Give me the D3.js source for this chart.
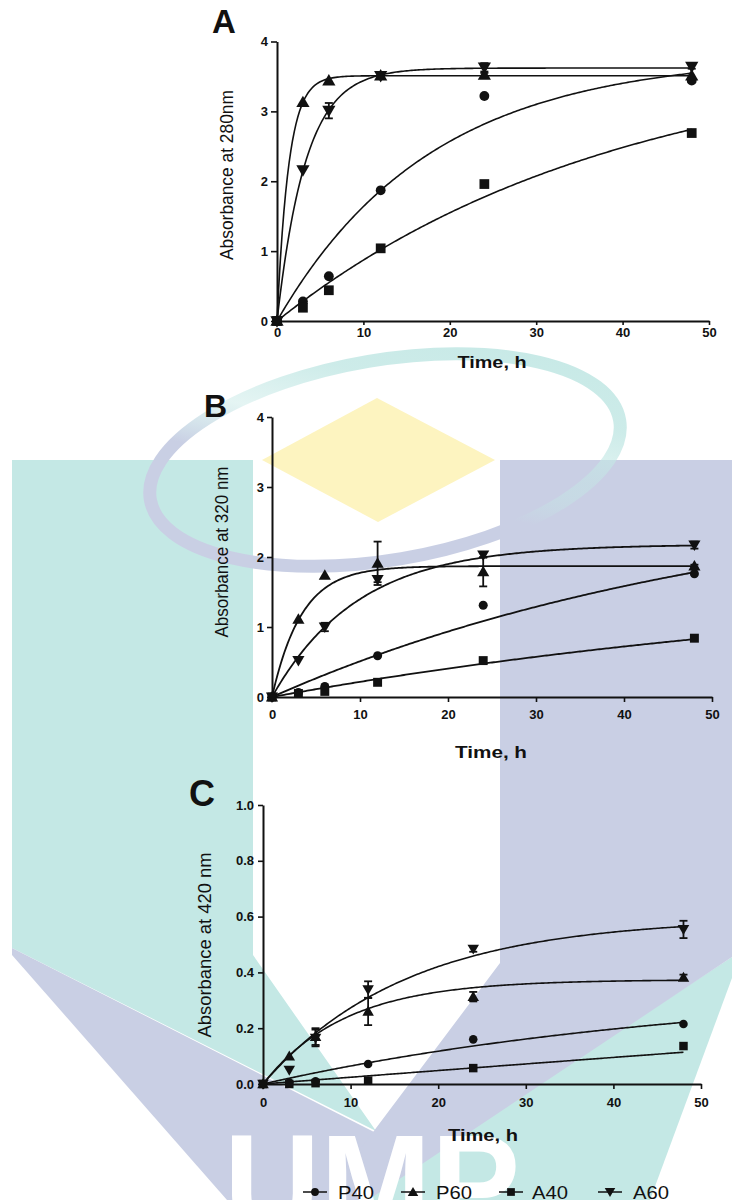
<!DOCTYPE html>
<html>
<head>
<meta charset="utf-8">
<script src="https://cdn.jsdelivr.net/npm/d3@7"></script>
<style>
  html, body { margin: 0; padding: 0; background: #fff; }
  svg { display: block; }
  text { font-family: Arial, "Liberation Sans", Helvetica, sans-serif; fill: #111; }
</style>
</head>
<body>
<svg id="chart" width="732" height="1200"></svg>
<script>
// Sampling times (h)
const times = [0, 3, 6, 12, 24, 48];
const seriesNames = ["P40", "P60", "A40", "A60"];
const xTicks = [0, 10, 20, 30, 40, 50];

// Panel A: absorbance at 280 nm
const a280_P40 = [0, 0.28, 0.64, 1.87, 3.22, 3.44];
const a280_P60 = [0, 3.13, 3.44, 3.51, 3.52, 3.51];
const a280_A40 = [0, 0.19, 0.44, 1.04, 1.96, 2.69];
const a280_A60 = [0, 2.16, 3.01, 3.51, 3.63, 3.64];
const a280_errP60 = [0, 0, 0, 0.02, 0.03, 0];
const a280_errA60 = [0, 0, 0.11, 0.03, 0.06, 0.03];
const a280_plateau = [3.80, 3.51, 3.90, 3.62];
const a280_rate = [0.0564, 0.74, 0.0253, 0.30];
const a280_yTicks = [0, 1, 2, 3, 4];

// Panel B: absorbance at 320 nm
const a320_P40 = [0, 0.065, 0.15, 0.59, 1.31, 1.76];
const a320_P60 = [0, 1.11, 1.74, 1.91, 1.79, 1.87];
const a320_A40 = [0, 0.05, 0.08, 0.21, 0.52, 0.84];
const a320_A60 = [0, 0.52, 1.00, 1.68, 2.03, 2.17];
const a320_errP60 = [0, 0, 0, 0.31, 0.21, 0.02];
const a320_errA60 = [0, 0, 0.06, 0.04, 0.04, 0.05];
const a320_plateau = [3.05, 1.87, 1.80, 2.18];
const a320_rate = [0.0183, 0.296, 0.0128, 0.1025];
const a320_yTicks = [0, 1, 2, 3, 4];

// Panel C: absorbance at 420 nm
const a420_P40 = [0, 0.005, 0.01, 0.072, 0.16, 0.215];
const a420_P60 = [0, 0.10, 0.17, 0.26, 0.313, 0.382];
const a420_A40 = [0, 0.0, 0.003, 0.012, 0.057, 0.136];
const a420_A60 = [0, 0.05, 0.165, 0.338, 0.484, 0.554];
const a420_errP60 = [0, 0, 0.03, 0.049, 0.017, 0.01];
const a420_errA60 = [0, 0, 0.03, 0.03, 0.01, 0.031];
const a420_plateau = [0.362, 0.374, 2.0, 0.596];
const a420_rate = [0.01964, 0.1067, 0.00122, 0.0612];
const a420_yTicks = [0, 0.2, 0.4, 0.6, 0.8, 1.0];

const svg = d3.select("#chart");
const INK = "#111";

// ---------- background emblem ----------
const TEAL = "#c4e8e5", LAV = "#c9cfe4", YEL = "#fdf4c0";
const defs = svg.append("defs");
const g0 = defs.append("linearGradient").attr("id", "ringGrad")
  .attr("x1", "0%").attr("y1", "100%").attr("x2", "100%").attr("y2", "0%");
g0.append("stop").attr("offset", "0%").attr("stop-color", LAV);
g0.append("stop").attr("offset", "42%").attr("stop-color", LAV);
g0.append("stop").attr("offset", "56%").attr("stop-color", TEAL).attr("stop-opacity", 0.45);
g0.append("stop").attr("offset", "72%").attr("stop-color", TEAL).attr("stop-opacity", 0.85);
g0.append("stop").attr("offset", "100%").attr("stop-color", TEAL);

const emblem = svg.append("g").attr("class", "emblem");
const poly = pts => "M" + pts.map(p => p.join(",")).join("L") + "Z";
emblem.append("path").attr("d", poly([[12,460],[253,460],[253,955],[376,1131],[12,948]])).attr("fill", TEAL);
emblem.append("path").attr("d", poly([[12,948],[376,1133],[376,1200],[227,1200],[12,955]])).attr("fill", LAV);
emblem.append("path").attr("d", poly([[732,957],[732,978],[650,1200],[366,1200],[366,1197]])).attr("fill", TEAL);
emblem.append("path").attr("d", poly([[500,460],[732,460],[732,957],[368,1200],[322,1200],[500,963]])).attr("fill", LAV);
emblem.append("ellipse")
  .attr("cx", 385).attr("cy", 460).attr("rx", 238).attr("ry", 100)
  .attr("transform", "rotate(-9.6 385 460)")
  .attr("fill", "none").attr("stroke", "url(#ringGrad)").attr("stroke-width", 13);
emblem.append("path").attr("d", poly([[377,398],[495,460],[378,522],[262,460]])).attr("fill", YEL);
emblem.append("text").text("UMP")
  .attr("x", 224).attr("y", 1232)
  .attr("textLength", 296).attr("lengthAdjust", "spacingAndGlyphs")
  .style("font-size", "140px").style("font-weight", "bold").style("fill", "#fff");

// ---------- markers ----------
const symbolTypes = [d3.symbolCircle, d3.symbolTriangle, d3.symbolSquare, d3.symbolTriangle];
const symbolRot = [0, 0, 0, 180];

function marker(g, i, x, y, size) {
  const s = [size * 0.8, size * 0.8, size, size * 0.8][i];
  g.append("path")
    .attr("d", d3.symbol().type(symbolTypes[i]).size(s)())
    .attr("transform", `translate(${x},${y}) rotate(${symbolRot[i]})` + (i === 1 || i === 3 ? " translate(0,1)" : ""))
    .attr("fill", INK);
}

// ---------- panels ----------
const panels = [
  {
    name: "A", values: [a280_P40, a280_P60, a280_A40, a280_A60],
    err: [null, a280_errP60, null, a280_errA60],
    plateau: a280_plateau, rate: a280_rate, yTicks: a280_yTicks, ymax: 4, fmt: d3.format("d"),
    xr: [277, 709], yr: [321, 41.5], xTick: [4, 3], yTick: [6, 3],
    letterPos: [212, 33, 33], yLabel: "Absorbance at 280nm", yLabelPos: [227, 175, 170],
    xLabelPos: [492, 368, 69], msize: 95, lw: 1.6
  },
  {
    name: "B", values: [a320_P40, a320_P60, a320_A40, a320_A60],
    err: [null, a320_errP60, null, a320_errA60],
    plateau: a320_plateau, rate: a320_rate, yTicks: a320_yTicks, ymax: 4, fmt: d3.format("d"),
    xr: [272, 712], yr: [697, 417], xTick: [5, 8], yTick: [5, 3],
    letterPos: [204, 417, 32], yLabel: "Absorbance at 320 nm", yLabelPos: [222, 552, 171],
    xLabelPos: [491, 758, 72], msize: 80, lw: 1.8
  },
  {
    name: "C", values: [a420_P40, a420_P60, a420_A40, a420_A60],
    err: [null, a420_errP60, null, a420_errA60],
    plateau: a420_plateau, rate: a420_rate, yTicks: a420_yTicks, ymax: 1, fmt: d3.format(".1f"),
    xr: [263, 701], yr: [1084, 805], xTick: [5, 9], yTick: [5, 4],
    letterPos: [189, 806, 36], yLabel: "Absorbance at 420 nm", yLabelPos: [205, 945, 185],
    xLabelPos: [483, 1141, 70], msize: 72, lw: 1.6
  }
];

panels.forEach(p => {
  const g = svg.append("g").attr("class", "panel-" + p.name);
  const x = d3.scaleLinear().domain([0, 50]).range(p.xr);
  const y = d3.scaleLinear().domain([0, p.ymax]).range(p.yr);

  // axes
  const ax = g.append("g").attr("transform", `translate(0,${p.yr[0]})`)
    .call(d3.axisBottom(x).tickValues(xTicks).tickSize(p.xTick[0]).tickPadding(p.xTick[1]).tickSizeOuter(0));
  const ay = g.append("g").attr("transform", `translate(${p.xr[0]},0)`)
    .call(d3.axisLeft(y).tickValues(p.yTicks).tickFormat(p.fmt).tickSize(p.yTick[0]).tickPadding(p.yTick[1]).tickSizeOuter(0));
  [ax, ay].forEach(a => {
    a.select(".domain").attr("stroke", INK).attr("stroke-width", 2);
    a.selectAll(".tick line").attr("stroke", INK).attr("stroke-width", 1.6);
    a.selectAll(".tick text").style("font-size", "13px").style("font-weight", "bold").attr("fill", INK)
      .style("font-family", "Arial, 'Liberation Sans', sans-serif");
  });

  // panel letter
  g.append("text").text(p.name)
    .attr("x", p.letterPos[0]).attr("y", p.letterPos[1])
    .style("font-size", p.letterPos[2] + "px").style("font-weight", "bold");

  // axis titles
  g.append("text").text(p.yLabel)
    .attr("transform", `translate(${p.yLabelPos[0]},${p.yLabelPos[1]}) rotate(-90)`)
    .attr("text-anchor", "middle").attr("dy", "0.36em")
    .attr("textLength", p.yLabelPos[2]).attr("lengthAdjust", "spacingAndGlyphs")
    .style("font-size", "18px");
  g.append("text").text("Time, h")
    .attr("x", p.xLabelPos[0]).attr("y", p.xLabelPos[1]).attr("text-anchor", "middle")
    .attr("textLength", p.xLabelPos[2]).attr("lengthAdjust", "spacingAndGlyphs")
    .style("font-size", "16px").style("font-weight", "bold");

  // one-phase association fit curves
  const tFit = d3.range(0, 48.001, 0.2);
  const line = d3.line().x(d => x(d[0])).y(d => y(d[1]));
  p.values.forEach((vals, i) => {
    const pts = tFit.map(t => [t, p.plateau[i] * (1 - Math.exp(-p.rate[i] * t))]);
    g.append("path").attr("d", line(pts)).attr("fill", "none")
      .attr("stroke", INK).attr("stroke-width", p.lw);
  });

  // error bars
  p.values.forEach((vals, i) => {
    const e = p.err[i];
    if (!e) return;
    vals.forEach((v, k) => {
      if (!e[k]) return;
      const cx = x(times[k]), y1 = y(v + e[k]), y2 = y(v - e[k]);
      g.append("line").attr("x1", cx).attr("x2", cx).attr("y1", y1).attr("y2", y2)
        .attr("stroke", INK).attr("stroke-width", 1.8);
      [y1, y2].forEach(yy => g.append("line").attr("x1", cx - 4).attr("x2", cx + 4)
        .attr("y1", yy).attr("y2", yy).attr("stroke", INK).attr("stroke-width", 1.8));
    });
  });

  // data points
  p.values.forEach((vals, i) => {
    vals.forEach((v, k) => marker(g, i, x(times[k]), y(v), p.msize));
  });
});

// ---------- legend ----------
const legendSym = [315, 413, 511, 610];
const legendTxt = [338, 436, 532, 633];
const lg = svg.append("g").attr("class", "legend");
seriesNames.forEach((name, i) => {
  lg.append("line").attr("x1", legendSym[i] - 12).attr("x2", legendSym[i] + 12)
    .attr("y1", 1192).attr("y2", 1192).attr("stroke", INK).attr("stroke-width", 1.5);
  marker(lg, i, legendSym[i], 1192, 60);
  lg.append("text").text(name).attr("x", legendTxt[i]).attr("y", 1199)
    .attr("textLength", 36).attr("lengthAdjust", "spacingAndGlyphs")
    .style("font-size", "19px");
});
</script>
</body>
</html>
